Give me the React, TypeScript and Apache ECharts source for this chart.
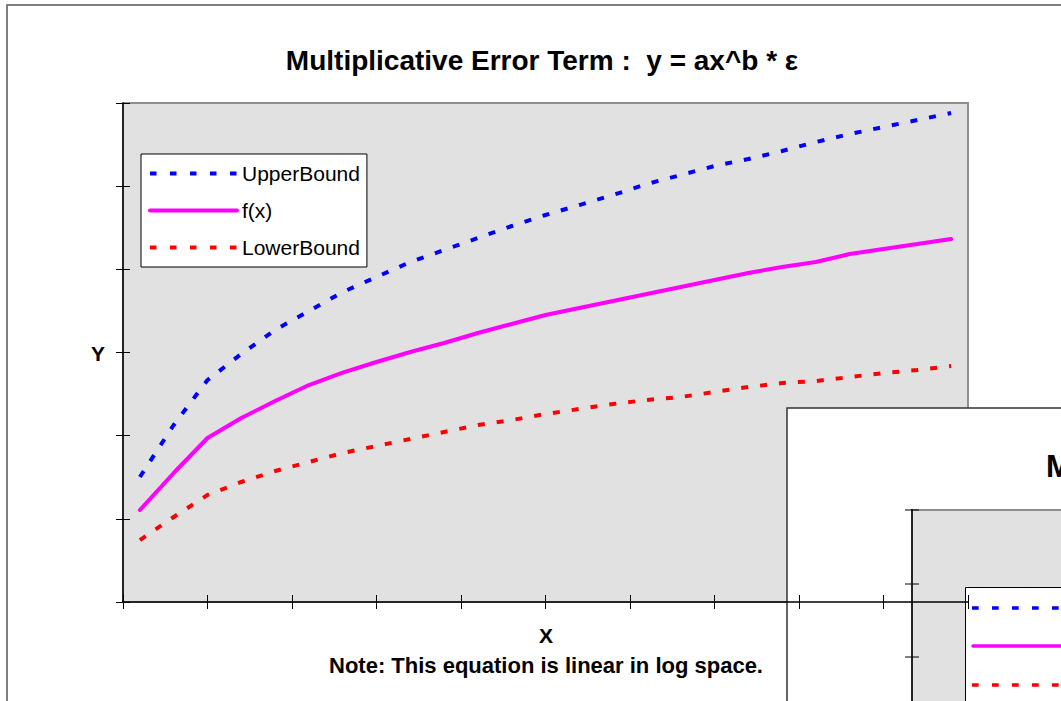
import React, { useEffect, useRef } from "react";
import * as echarts from "echarts";

const xValues = [1, 3, 5, 7, 9, 11, 13, 15, 17, 19, 21, 23, 25, 27, 29, 31, 33, 35, 37, 39, 41, 43, 45, 47, 49];
const upperBound = [15.03, 21.28, 26.69, 29.82, 32.7, 34.99, 37.27, 39.08, 40.88, 42.32, 43.77, 45.21, 46.53, 47.73, 48.94, 50.26, 51.34, 52.42, 53.26, 54.23, 55.31, 56.27, 57.11, 57.95, 58.8];
const fx = [11.06, 15.51, 19.72, 22.12, 24.17, 26.09, 27.59, 28.86, 30.06, 31.14, 32.34, 33.43, 34.51, 35.35, 36.19, 37.03, 37.87, 38.72, 39.56, 40.28, 40.88, 41.84, 42.44, 43.04, 43.65];
const lowerBound = [7.45, 10.22, 12.87, 14.43, 15.75, 16.83, 17.92, 18.76, 19.6, 20.44, 21.28, 21.88, 22.6, 23.21, 23.81, 24.29, 24.65, 25.25, 25.85, 26.33, 26.57, 27.05, 27.53, 27.89, 28.38];
const seriesNames = ["UpperBound", "f(x)", "LowerBound"];
const titleText = "Multiplicative Error Term :  y = ax^b * \u03b5";
const noteText = "Note: This equation is linear in log space.";
const xMin = 0, xMax = 50, xStep = 5;
const yMin = 0, yMax = 60, yStep = 10;

const FONT = "'Liberation Sans', Arial, sans-serif";

export default function App() {
  const ref = useRef<HTMLDivElement>(null);
  useEffect(() => {
    if (!ref.current) return;
    const chart = echarts.init(ref.current, undefined, { renderer: "svg" });
    const mk = (arr: number[]) => xValues.map((x, i) => [x, arr[i]]);
    const axisCommon = {
      type: "value" as const,
      axisLabel: { show: false },
      splitLine: { show: false },
    };
    const dash = [7, 12];
    const legendDash = [6.5, 13.5];
    chart.setOption({
      animation: false,
      backgroundColor: "#ffffff",
      title: {
        text: titleText,
        left: 542,
        top: 46,
        textAlign: "center",
        padding: 0,
        textStyle: { fontFamily: FONT, fontSize: 28, fontWeight: "bold", color: "#000" },
      },
      legend: {
        data: [
          { name: seriesNames[0], lineStyle: { width: 4, type: legendDash, color: "#0000ff" } },
          { name: seriesNames[1], lineStyle: { width: 4, type: "solid", color: "#ff00ff" } },
          { name: seriesNames[2], lineStyle: { width: 4, type: legendDash, color: "#ff0000" } },
        ],
        orient: "vertical",
        left: 141,
        top: 154,
        padding: [9, 7, 9, 7],
        itemWidth: 87,
        itemHeight: 14,
        itemGap: 16,
        backgroundColor: "#ffffff",
        borderColor: "#000000",
        borderWidth: 1,
        selectedMode: false,
        itemStyle: { opacity: 0 },
        lineStyle: { width: 4 },
        textStyle: { fontFamily: FONT, fontSize: 21, color: "#000" },
      },
      grid: {
        left: 123,
        top: 103,
        width: 845,
        height: 499,
        show: true,
        backgroundColor: "#e1e1e1",
        borderColor: "#8e8e8e",
        borderWidth: 2,
      },
      xAxis: [
        {
          ...axisCommon,
          min: xMin,
          max: xMax,
          interval: xStep,
          axisLine: { show: true, lineStyle: { color: "#000", width: 1.5 } },
          axisTick: { show: true, inside: false, length: 7, lineStyle: { color: "#000", width: 1 } },
        },
        {
          ...axisCommon,
          position: "bottom",
          min: xMin,
          max: xMax,
          interval: xStep,
          axisLine: { show: false },
          axisTick: { show: true, inside: true, length: 7, lineStyle: { color: "#000", width: 1 } },
        },
      ],
      yAxis: [
        {
          ...axisCommon,
          min: yMin,
          max: yMax,
          interval: yStep,
          axisLine: { show: true, lineStyle: { color: "#000", width: 1.5 } },
          axisTick: { show: true, inside: false, length: 7, lineStyle: { color: "#000", width: 1 } },
        },
        {
          ...axisCommon,
          position: "left",
          min: yMin,
          max: yMax,
          interval: yStep,
          axisLine: { show: false },
          axisTick: { show: true, inside: true, length: 7, lineStyle: { color: "#000", width: 1 } },
        },
      ],
      series: [
        {
          name: seriesNames[0],
          type: "line",
          data: mk(upperBound),
          symbol: "none",
          lineStyle: { color: "#0000ff", width: 4, type: dash },
          itemStyle: { color: "#0000ff" },
        },
        {
          name: seriesNames[1],
          type: "line",
          data: mk(fx),
          symbol: "none",
          lineStyle: { color: "#ff00ff", width: 4, type: "solid", cap: "round" },
          itemStyle: { color: "#ff00ff" },
        },
        {
          name: seriesNames[2],
          type: "line",
          data: mk(lowerBound),
          symbol: "none",
          lineStyle: { color: "#ff0000", width: 4, type: dash },
          itemStyle: { color: "#ff0000" },
        },
      ],
      graphic: [
        {
          type: "rect",
          z: -10,
          silent: true,
          shape: { x: 7, y: 5, width: 1200, height: 900 },
          style: { fill: "none", stroke: "#555", lineWidth: 1.5 },
        },
        {
          type: "text",
          x: 98,
          y: 353,
          silent: true,
          style: { text: "Y", fontFamily: FONT, fontSize: 21, fontWeight: "bold", fill: "#000", align: "center", verticalAlign: "middle" },
        },
        {
          type: "text",
          x: 546,
          y: 635,
          silent: true,
          style: { text: "X", fontFamily: FONT, fontSize: 21, fontWeight: "bold", fill: "#000", align: "center", verticalAlign: "middle" },
        },
        {
          type: "text",
          x: 546,
          y: 665,
          silent: true,
          style: { text: noteText, fontFamily: FONT, fontSize: 22, fontWeight: "bold", fill: "#000", align: "center", verticalAlign: "middle" },
        },
        {
          type: "group",
          z: 100,
          silent: true,
          children: [
            {
              type: "rect",
              shape: { x: 787, y: 408, width: 600, height: 600 },
              style: { fill: "#ffffff", stroke: "#333", lineWidth: 1.5 },
            },
            {
              type: "text",
              x: 1046,
              y: 466,
              style: { text: titleText, fontFamily: FONT, fontSize: 31, fontWeight: "bold", fill: "#000", align: "left", verticalAlign: "middle" },
            },
            {
              type: "rect",
              shape: { x: 912, y: 510, width: 400, height: 400 },
              style: { fill: "#e1e1e1", stroke: "#8e8e8e", lineWidth: 2 },
            },
            {
              type: "line",
              shape: { x1: 912, y1: 509, x2: 912, y2: 720 },
              style: { stroke: "#000", lineWidth: 1.5 },
            },
            {
              type: "line",
              shape: { x1: 905, y1: 510, x2: 919, y2: 510 },
              style: { stroke: "#000", lineWidth: 1 },
            },
            {
              type: "line",
              shape: { x1: 905, y1: 584, x2: 919, y2: 584 },
              style: { stroke: "#000", lineWidth: 1 },
            },
            {
              type: "line",
              shape: { x1: 905, y1: 657, x2: 919, y2: 657 },
              style: { stroke: "#000", lineWidth: 1 },
            },
            {
              type: "rect",
              shape: { x: 965.5, y: 587.5, width: 300, height: 300 },
              style: { fill: "#ffffff", stroke: "#000", lineWidth: 1 },
            },
            {
              type: "line",
              shape: { x1: 972, y1: 608, x2: 1070, y2: 608 },
              style: { stroke: "#0000ff", lineWidth: 3.3, lineDash: [6.7, 13.3] },
            },
            {
              type: "line",
              shape: { x1: 973, y1: 646, x2: 1070, y2: 646 },
              style: { stroke: "#ff00ff", lineWidth: 3.5, lineCap: "round" },
            },
            {
              type: "line",
              shape: { x1: 972, y1: 685, x2: 1070, y2: 685 },
              style: { stroke: "#ff0000", lineWidth: 3.3, lineDash: [6.7, 13.3] },
            },
          ],
        },
      ],
    });
    return () => chart.dispose();
  }, []);
  return (
    <div style={{ position: "fixed", left: 0, top: 0, width: 1061, height: 701, overflow: "hidden", background: "#fff" }}>
      <div ref={ref} style={{ width: 1061, height: 701 }} />
    </div>
  );
}
